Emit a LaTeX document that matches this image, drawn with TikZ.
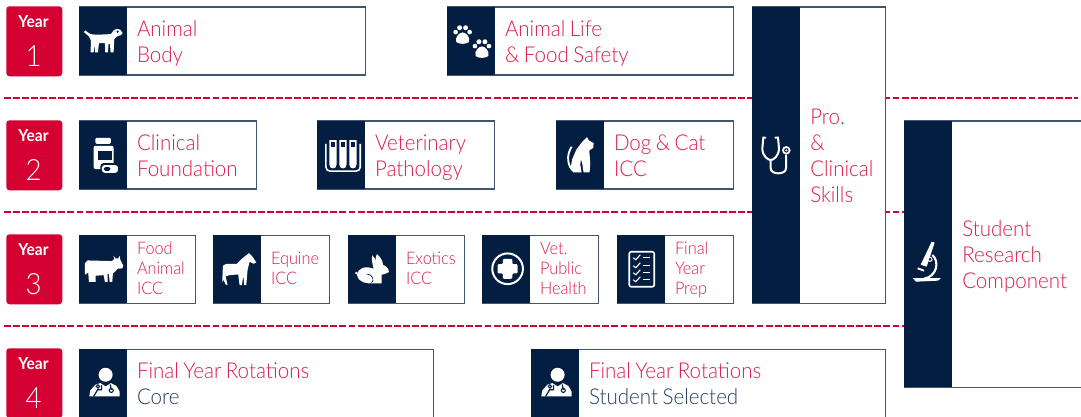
\documentclass[tikz,border=0pt]{standalone}
\usepackage{fontspec}
\setmainfont{Lato Light}[BoldFont={Lato Bold},FakeStretch=0.94,WordSpace=0.8]
\definecolor{navy}{HTML}{041E42}
\definecolor{crim}{HTML}{D50032}
\definecolor{txtred}{HTML}{DC1E4B}
\definecolor{txtnavy}{HTML}{2A3F5F}
\tikzset{
  x=0.75pt,y=-0.75pt,
  sep/.style={draw=crim,line width=1pt,dash pattern=on 5.2pt off 1.6pt},
  card/.style={draw=navy!75,line width=1.1pt,fill=white},
  navybar/.style={draw=none,fill=navy},
  yearbox/.style={fill=crim,rounded corners=2.4pt},
  big/.style={text=txtred,font=\fontsize{16.4}{19.5}\selectfont,align=left,anchor=west,inner sep=0pt},
  small/.style={text=txtred,font=\fontsize{13}{15}\selectfont,align=left,anchor=west,inner sep=0pt},
  dogicon/.pic={\begin{scope}[scale=1/3,shift={(-309,-123)}]
    \fill[white] (251,97)--(255,92)--(270,103)--(290,105)--(332,103)--(340,92)--(350,87)--(360,90)--(367,100)--(362,106)--(350,110)--(342,118)--(340,158)--(331,158)--(329,132)--(325,132)--(323,158)--(315,158)--(314,130)--(296,130)--(293,158)--(284,158)--(283,132)--(280,158)--(271,158)--(272,122)--(266,110)--cycle;
    \fill[navy] (352,96) circle (3.5);
  \end{scope}},
  pawsicon/.pic={\begin{scope}[scale=1/3,shift={(-483,-123)}]
    \foreach \cx/\cy in {457/105,515/147}{
      \fill[white] (\cx-19,\cy+22) .. controls (\cx-24,\cy+6) and (\cx-9,\cy-7) .. (\cx,\cy-7) .. controls (\cx+9,\cy-7) and (\cx+24,\cy+6) .. (\cx+19,\cy+22) .. controls (\cx+9,\cy+29) and (\cx-9,\cy+29) .. cycle;
      \fill[white] (\cx-21,\cy-8) circle (7);
      \fill[white] (\cx-9,\cy-21) circle (7.5);
      \fill[white] (\cx+9,\cy-21) circle (7.5);
      \fill[white] (\cx+21,\cy-8) circle (7);
    }
  \end{scope}},
  pillsicon/.pic={\begin{scope}[scale=1/3,shift={(-309,-465)}]
    \fill[white,rounded corners=1pt] (285,414) rectangle (332,432);
    \fill[white,rounded corners=1.5pt] (280,438) rectangle (340,508);
    \fill[navy] (292,455) rectangle (335,482);
    \fill[navy,rounded corners=2.5pt] (300,490) rectangle (358,522);
    \fill[white,rounded corners=2pt] (305,496) rectangle (353,519);
    \fill[navy,rounded corners=1pt] (311,502) rectangle (330,513);
  \end{scope}},
  tubesicon/.pic={\begin{scope}[scale=1/3,shift={(-93,-465)}]
    \draw[white,line width=1.2pt,rounded corners=3pt] (47,432)--(47,514)--(150,514)--(150,432);
    \foreach \tx in {57,87,117}{
      \fill[white] (\tx,421)--(\tx+22,421)--(\tx+22,494) .. controls (\tx+22,510) and (\tx,510) .. (\tx,494) --cycle;
      \fill[navy] (\tx+5,427) rectangle (\tx+17,442);
    }
  \end{scope}},
  caticon/.pic={\begin{scope}[scale=1/3,shift={(-810,-465)}]
    \draw[white,line width=1.4pt] (784,441) .. controls (768,465) and (770,500) .. (792,516);
    \fill[white] (790,518)--(782,500)--(786,478)--(798,450)--(816,426)--(830,412)--(836,422)--(850,430)--(849,444)--(837,452)--(840,490)--(838,518)--(820,518)--(816,492)--(812,478)--(810,495)--(814,518)--cycle;
  \end{scope}},
  cowicon/.pic={\begin{scope}[scale=1/3,shift={(-309,-147)}]
    \fill[white] (254,130)--(262,122)--(335,124)--(342,118)--(340,108)--(346,116)--(354,116)--(358,108)--(360,120)--(369,138)--(366,146)--(352,147)--(342,158)--(338,160)--(336,186)--(328,186)--(326,162)--(322,162)--(322,186)--(314,186)--(310,166)--(286,168)--(286,186)--(266,186)--(264,160)--(259,160)--(259,164)--(254,164)--cycle;
  \end{scope}},
  horseicon/.pic={\begin{scope}[scale=1/3,shift={(-711,-147)}]
    \fill[white] (667,158)--(668,138)--(678,132)--(710,132)--(726,116)--(746,100)--(756,110)--(768,128)--(760,132)--(748,126)--(742,150)--(738,196)--(732,196)--(729,168)--(725,196)--(718,196)--(714,164)--(688,166)--(676,170)--(682,196)--(676,194)--(670,180)--(666,188)--cycle;
  \end{scope}},
  rabbiticon/.pic={\begin{scope}[scale=1/3,shift={(-96,-132)}]
    \fill[white] (48,145) circle (4) (50,150) .. controls (52,130) and (76,122) .. (100,132) .. controls (97,118) and (92,100) .. (96,92) .. controls (102,96) and (106,104) .. (108,110) .. controls (106,100) and (106,92) .. (110,88) .. controls (120,96) and (128,108) .. (128,120) .. controls (138,124) and (146,132) .. (146,142) .. controls (138,148) and (128,148) .. (124,150) -- (124,176) -- (100,176) .. controls (80,176) and (56,176) .. (50,150) -- cycle;
    \draw[navy,line width=.5pt] (80,148) .. controls (100,150) and (102,168) .. (94,174);
  \end{scope}},
  plusicon/.pic={\begin{scope}[scale=1/3,shift={(-498,-132)}]
    \draw[white,line width=1.5pt] (502,132) circle (46);
    \fill[white,rounded corners=.8pt] (488,102)--(516,102)--(516,118)--(532,118)--(532,146)--(516,146)--(516,162)--(488,162)--(488,146)--(472,146)--(472,118)--(488,118)--cycle;
  \end{scope}},
  listicon/.pic={\begin{scope}[shift={(-12,-19)}]
    \draw[white,line width=1.2pt,rounded corners=1.5pt] (0,2) rectangle (25,37);
    \foreach \yy in {8,16,23,30}{
      \draw[white,line width=.8pt] (4,\yy)--(6.5,\yy+2)--(11,\yy-3);
      \draw[white,line width=1pt] (14,\yy)--(21,\yy);
    }
  \end{scope}},
  docicon/.pic={\begin{scope}[scale=1/3,shift={(-309,-489)}]
    \fill[white] (316,465) circle (21);
    \fill[white] (267,530)--(270,512)--(285,495)--(300,490)--(316,500)--(332,490)--(348,498)--(358,515)--(358,530)--cycle;
    \draw[navy,line width=.9pt] (304,496)--(304,510)--(292,510)--(280,530);
    \draw[navy,line width=.9pt] (330,494)--(333,510);
    \draw[navy,line width=.8pt] (333,512) circle (6);
    \draw[navy,line width=.8pt] (293,500) circle (5);
  \end{scope}},
  stethicon/.pic={\begin{scope}[scale=1/3,shift={(-108,-195)}]
    \draw[white,line width=1.5pt,line cap=round] (76,143) -- (70,143) -- (67,175) .. controls (67,200) and (85,210) .. (92,210) .. controls (100,210) and (116,200) .. (117,175) -- (114,143) -- (106,143);
    \draw[white,line width=1.5pt] (92,210) -- (92,235) .. controls (92,255) and (138,255) .. (138,235) -- (138,195);
    \draw[white,line width=1.3pt] (139,181) circle (10);
    \fill[white] (139,181) circle (3.5);
  \end{scope}},
  microicon/.pic={\begin{scope}[scale=1/3,shift={(-564,-537)}]
    \fill[white] (518,564)--(603,564)--(594,572)--(528,575)--cycle;
    \fill[white] (575,455)--(584,458)--(560,530)--(542,524)--cycle;
    \draw[white,line width=1.6pt] (577,495) .. controls (600,515) and (590,560) .. (552,566);
    \draw[white,line width=1.4pt] (533,535)--(552,542);
    \fill[navy] (570,508) circle (5);
    \draw[white,line width=.8pt] (570,508) circle (6);
  \end{scope}},
}
\newcommand{\card}[9]{%
  \node[card,anchor=north west,minimum width=#4*0.75pt-#2*0.75pt,minimum height=#5*0.75pt-#3*0.75pt,inner sep=0pt] (#1) at (#2,#3-.5) {};
  \node[navybar,anchor=north west,minimum width=36pt,minimum height=#5*0.75pt-#3*0.75pt,inner sep=0pt] (#1bar) at (#2,#3-.5) {};
  \pic at (#1bar.center) {#6};
  \node[#7] (#1txt) at ([xshift=43.3pt,yshift=#9pt]#1.west) {\strut #8\strut};
}
\newcommand{\yearbox}[3]{%
  \node[yearbox,anchor=north west,minimum width=42pt,minimum height=52.5pt,inner sep=0pt] (#1) at (6,#2) {};
  \node[text=white,font=\fontsize{12.4}{14}\selectfont\bfseries,inner sep=0pt] (#1a) at (33.5,#2+16) {Year};
  \node[text=white,font=\fontsize{22}{26}\selectfont,inner sep=0pt] (#1b) at (33.5,#2+50.5) {#3};
}
\begin{document}
\begin{tikzpicture}
\useasboundingbox (0,0) rectangle (1081,417);
\coordinate (s1a) at (4,98);  \coordinate (s1b) at (1078,98);
\coordinate (s2a) at (4,212); \coordinate (s2b) at (904,212);
\coordinate (s3a) at (4,326); \coordinate (s3b) at (904,326);
\draw[sep] (s1a)--(s1b);
\draw[sep] (s2a)--(s2b);
\draw[sep] (s3a)--(s3b);
\yearbox{y1}{6}{1}
\yearbox{y2}{120}{2}
\yearbox{y3}{234}{3}
\yearbox{y4}{348}{4}
\card{body}{79}{7}{365}{75}{dogicon}{big}{Animal\\Body}{-2.1}
\card{life}{447}{7}{733}{75}{pawsicon}{big}{Animal Life\\\& Food Safety}{-2.1}
\card{found}{79}{121}{256}{189}{pillsicon}{big}{Clinical\\Foundation}{-2.1}
\card{path}{317}{121}{494}{189}{tubesicon}{big}{Veterinary\\Pathology}{-2.1}
\card{dogcat}{556}{121}{733}{189}{caticon}{big}{Dog \& Cat\\ICC}{-2.1}
\card{food}{79}{235}{195}{303}{cowicon}{small}{Food\\Animal\\ICC}{-1}
\card{equine}{213}{235}{329}{303}{horseicon}{small}{Equine\\ICC}{-1}
\card{exotics}{348}{235}{464}{303}{rabbiticon}{small}{Exotics\\ICC}{-1}
\card{vet}{482}{235}{598}{303}{plusicon}{small}{Vet.\\Public\\Health}{-1}
\card{prep}{617}{235}{733}{303}{listicon}{small}{Final\\Year\\Prep}{-1}
\card{core}{79}{349}{433}{417}{docicon}{big}{Final Year Rotations\\\textcolor{txtnavy}{Core}}{-2.1}
\card{sel}{531}{349}{885}{417}{docicon}{big}{Final Year Rotations\\\textcolor{txtnavy}{Student Selected}}{-2.1}
\node[card,anchor=north west,minimum width=99.75pt,minimum height=222pt,inner sep=0pt] (pro) at (752,6.5) {};
\node[navybar,anchor=north west,minimum width=36pt,minimum height=222pt,inner sep=0pt] (probar) at (752,6.5) {};
\pic at (776,155) {stethicon};
\node[big] (protxt) at (810,158) {\strut Pro.\\\&\\Clinical\\Skills\strut};
\node[card,anchor=north west,minimum width=132.75pt,minimum height=199.5pt,inner sep=0pt] (res) at (904,120.5) {};
\node[navybar,anchor=north west,minimum width=36pt,minimum height=199.5pt,inner sep=0pt] (resbar) at (904,120.5) {};
\pic at (928,269) {microicon};
\node[big] (restxt) at (962,257) {\strut Student\\Research\\Component\strut};
\end{tikzpicture}
\end{document}
